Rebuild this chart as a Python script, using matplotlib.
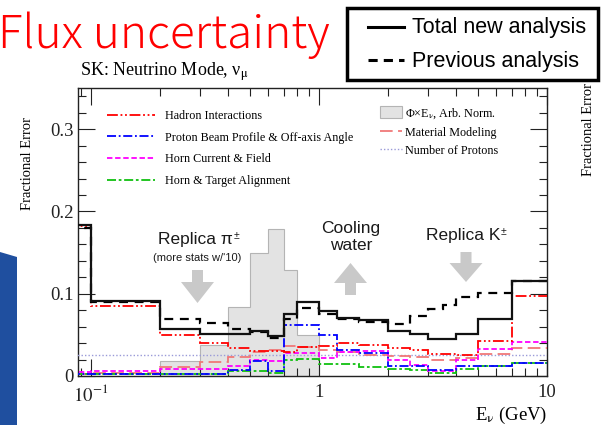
import matplotlib
matplotlib.use("Agg")
import matplotlib.pyplot as plt
import matplotlib.transforms as mtransforms
from matplotlib.lines import Line2D
from matplotlib.patches import Patch, Polygon, Rectangle, FancyArrow
from matplotlib.ticker import MultipleLocator, LogLocator, FuncFormatter, NullFormatter

W, H = 602, 425

# neutrino energy bins (GeV); the lowest bin starts at 0, below the log range shown
edges = [0.05, 0.1, 0.2, 0.3, 0.4, 0.5, 0.6, 0.7, 0.8, 1.0, 1.2, 1.5, 2.0,
         2.5, 3.0, 3.5, 4.0, 5.0, 7.0, 10.0]

total_new = [0.183, 0.091, 0.057, 0.0505, 0.0505, 0.055, 0.049, 0.075, 0.090,
             0.079, 0.071, 0.0675, 0.055, 0.0505, 0.0445, 0.0445, 0.0505, 0.0687, 0.116]
previous = [0.180, 0.090, 0.0695, 0.065, 0.057, 0.053, 0.0465, 0.0687, 0.083,
            0.075, 0.0687, 0.066, 0.0627, 0.0727, 0.081, 0.086, 0.096, 0.101, 0.115]
hadron = [0.182, 0.085, 0.050, 0.040, 0.034, 0.030, 0.030, 0.029, 0.035,
          0.037, 0.040, 0.038, 0.034, 0.031, 0.027, 0.027, 0.0255, 0.0424, 0.097]
beam = [0.002, 0.002, 0.003, 0.003, 0.007, 0.018, 0.006, 0.062, 0.062,
        0.050, 0.032, 0.028, 0.012, 0.012, 0.007, 0.007, 0.0117, 0.012, 0.0154]
horn_current = [0.005, 0.006, 0.008, 0.009, 0.012, 0.020, 0.018, 0.028, 0.028,
                0.022, 0.029, 0.030, 0.019, 0.013, 0.006, 0.006, 0.019, 0.033, 0.041]
alignment = [0.002, 0.002, 0.002, 0.003, 0.006, 0.006, 0.004, 0.020, 0.021,
             0.014, 0.014, 0.011, 0.008, 0.007, 0.004, 0.004, 0.008, 0.012, 0.016]
material = [0.003, 0.004, 0.011, 0.017, 0.023, 0.029, 0.032, 0.036, 0.035,
            0.031, 0.029, 0.026, 0.024, 0.023, 0.020, 0.020, 0.022, 0.027, 0.034]
protons = [0.026, 0.026, 0.026, 0.026, 0.026, 0.026, 0.026, 0.026, 0.026,
           0.026, 0.026, 0.026, 0.026, 0.026, 0.026, 0.026, 0.026, 0.026, 0.026]
flux_shape = [0.0, 0.0, 0.018, 0.038, 0.084, 0.150, 0.179, 0.129, 0.050,
              0.0, 0.0, 0.0, 0.0, 0.0, 0.0, 0.0, 0.0, 0.0, 0.0]

plt.rcParams['font.family'] = ['Liberation Serif', 'DejaVu Serif']
plt.rcParams['mathtext.fontset'] = 'stix'

fig = plt.figure(figsize=(W / 100, H / 100), dpi=100)
# pixel coordinates measured from the top-left corner of the slide
px = mtransforms.Affine2D().scale(1 / W, -1 / H).translate(0, 1) + fig.transFigure

ax = fig.add_axes([78 / W, 1 - 376 / H, (547 - 78) / W, (376 - 88) / H])

ax.stairs(flux_shape, edges, fill=True, facecolor='#e3e3e3', edgecolor='#b4b4b4',
          linewidth=0.8, zorder=1)

styles = [
    (protons, '#9a9ad8', (0, (1, 1.5)), 1.0, 'Number of Protons'),
    (material, '#f07878', (0, (7, 3)), 1.3, 'Material Modeling'),
    (alignment, '#10c010', (0, (5, 1.5, 1.5, 1.5)), 1.3, 'Horn & Target Alignment'),
    (horn_current, '#ff00ff', (0, (3, 1.5)), 1.3, 'Horn Current & Field'),
    (beam, '#0000ff', (0, (5, 1.5, 1, 1.5)), 1.3, 'Proton Beam Profile & Off-axis Angle'),
    (hadron, '#ff0000', (0, (6, 1.5, 1, 1.5, 1, 1.5)), 1.3, 'Hadron Interactions'),
]
handles = {}
for vals, col, ls, lw, name in styles:
    ax.stairs(vals, edges, baseline=None, color=col, linestyle=ls, linewidth=lw, zorder=3)
    handles[name] = Line2D([], [], color=col, linestyle=ls, linewidth=lw)

ax.stairs(previous, edges, baseline=None, color='black', linestyle=(0, (4, 3)),
          linewidth=1.6, zorder=4)
ax.stairs(total_new, edges, baseline=None, color='#111111', linewidth=1.6, zorder=5)

ax.set_xscale('log')
ax.set_xlim(0.0877, 10)
ax.set_ylim(0, 0.35)
ax.xaxis.set_major_locator(LogLocator(base=10, numticks=10))
ax.xaxis.set_minor_locator(LogLocator(base=10, subs=range(2, 10), numticks=20))
ax.xaxis.set_minor_formatter(NullFormatter())
xlab = {0.1: r'$10^{-1}$', 1.0: '1', 10.0: '10'}
ax.xaxis.set_major_formatter(FuncFormatter(lambda v, p: xlab.get(round(v, 3), '')))
ax.yaxis.set_major_locator(MultipleLocator(0.1))
ax.yaxis.set_minor_locator(MultipleLocator(0.02))
ax.yaxis.set_major_formatter(FuncFormatter(lambda v, p: '0' if abs(v) < 1e-9 else '%.1f' % v))

ax.tick_params(which='both', direction='in', top=True, right=True, colors='#222222',
               labelsize=13.5, width=0.8)
ax.tick_params(which='major', length=12)
ax.tick_params(which='minor', length=6)
ax.tick_params(axis='y', pad=3)
ax.tick_params(axis='x', pad=6)
for s in ax.spines.values():
    s.set_linewidth(1.0)
    s.set_color('#222222')

ax.set_xlabel(r'E$_{\mathrm{ν}}$ (GeV)', loc='right', fontsize=13.5, labelpad=0)

leg1 = ax.legend([handles[n] for n in ['Hadron Interactions',
                                       'Proton Beam Profile & Off-axis Angle',
                                       'Horn Current & Field', 'Horn & Target Alignment']],
                 ['Hadron Interactions', 'Proton Beam Profile & Off-axis Angle',
                  'Horn Current & Field', 'Horn & Target Alignment'],
                 loc='upper left', bbox_to_anchor=(107, 110), bbox_transform=px,
                 frameon=False, fontsize=8.7, handlelength=4.0, handletextpad=0.8,
                 labelspacing=0.8, borderpad=0, borderaxespad=0)
ax.add_artist(leg1)
ax.legend([Patch(facecolor='#e3e3e3', edgecolor='#b4b4b4', linewidth=0.8),
           handles['Material Modeling'], handles['Number of Protons']],
          [r'Φ×E$_{\mathrm{ν}}$, Arb. Norm.', 'Material Modeling', 'Number of Protons'],
          loc='upper left', bbox_to_anchor=(380, 106), bbox_transform=px,
          frameon=False, fontsize=8.7, handlelength=1.8, handleheight=1.1,
          handletextpad=0.3, labelspacing=0.45, borderpad=0, borderaxespad=0)

fig.text(80, 72, r'SK: Neutrino Mode, ν$_{\mathrm{μ}}$', transform=px, fontsize=13,
         ha='left', va='center')
fig.text(28, 164, 'Fractional Error', transform=px, fontsize=10.5, rotation=90,
         ha='center', va='center')
fig.text(588, 129, 'Fractional Error', transform=px, fontsize=10.5, rotation=90,
         ha='center', va='center')

# slide decorations
fig.text(-2, 48, 'Flux uncertainty', transform=px, fontsize=33, color='#ff0000',
         family=['Noto Sans CJK JP', 'DejaVu Sans'], fontweight='light', va='baseline')
fig.add_artist(Polygon([(0, 252), (17, 257), (17, 425), (0, 425)], closed=True,
                       transform=px, facecolor='#1f4f9f', edgecolor='none'))
fig.add_artist(Rectangle((347, 8), 251, 72, transform=px, facecolor='white',
                         edgecolor='black', linewidth=2.5))
fig.add_artist(Line2D([368, 404], [27, 27], transform=px, color='black', linewidth=2.2))
fig.add_artist(Line2D([368, 404], [60, 60], transform=px, color='black', linewidth=2.2,
                      linestyle=(0, (3, 2))))
sans = ['Liberation Sans', 'DejaVu Sans']
fig.text(412, 28, 'Total new analysis', transform=px, fontsize=15.5, family=sans,
         va='center')
fig.text(412, 61, 'Previous analysis', transform=px, fontsize=15.5, family=sans,
         va='center')

# beamline annotations
grey = '#c9c9c9'
ink = '#1a1a1a'
for x0, y0, dy, hl in [(197.5, 270, 33, 21), (350.5, 295, -32, 20), (466, 252, 30, 19)]:
    fig.add_artist(FancyArrow(x0, y0, 0, dy, width=11, head_width=33, head_length=hl,
                              length_includes_head=True, transform=px,
                              facecolor=grey, edgecolor='none'))
fig.text(233, 240, 'Replica π', transform=px, fontsize=12.5, family=sans, color=ink,
         ha='right', va='center')
fig.text(233.5, 236, '±', transform=px, fontsize=7.5, family=sans, color=ink,
         ha='left', va='center')
fig.text(197, 258, "(more stats w/'10)", transform=px, fontsize=8, family=sans,
         color=ink, ha='center', va='center')
fig.text(351, 237, 'Cooling\nwater', transform=px, fontsize=12.5, family=sans,
         color=ink, ha='center', va='center', linespacing=1.2)
fig.text(500, 236, 'Replica K', transform=px, fontsize=12.5, family=sans, color=ink,
         ha='right', va='center')
fig.text(500.5, 232, '±', transform=px, fontsize=7.5, family=sans, color=ink,
         ha='left', va='center')

fig.savefig('out.png', dpi=100)
